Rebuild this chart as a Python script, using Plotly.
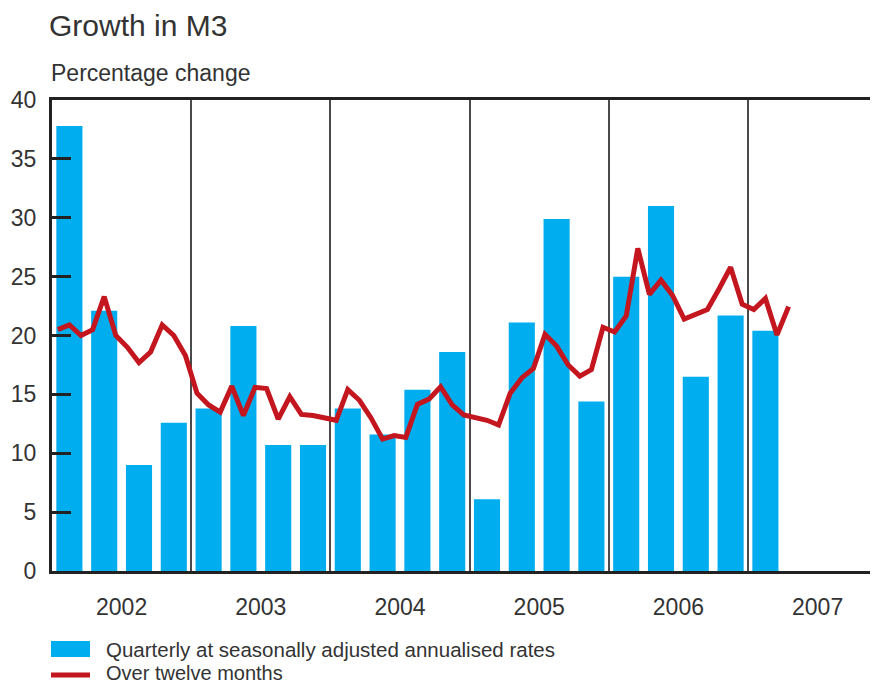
'''
Growth in M3: quarterly annualised bars and twelve-month line
'''
import numpy as np
import plotly.graph_objects as go

years = ['2002', '2003', '2004', '2005', '2006', '2007']

# quarterly at seasonally adjusted annualised rates, Q1 2002 - Q1 2007
quarterly = [37.8, 22.1, 9.0, 12.6,
             13.8, 20.8, 10.7, 10.7,
             13.8, 11.6, 15.4, 18.6,
             6.1, 21.1, 29.9, 14.4,
             25.0, 31.0, 16.5, 21.7,
             20.4]

# over twelve months, Jan 2002 - Apr 2007
monthly = [20.5, 20.9, 20.0, 20.5, 23.3, 20.0, 19.0, 17.7, 18.6, 20.9, 20.0, 18.3,
           15.1, 14.1, 13.5, 15.7, 13.2, 15.6, 15.5, 12.9, 14.8, 13.3, 13.2, 13.05,
           12.8, 15.4, 14.5, 13.0, 11.2, 11.5, 11.35, 14.15, 14.6, 15.65, 14.1, 13.25,
           13.05, 12.8, 12.4, 15.1, 16.4, 17.2, 20.1, 19.1, 17.5, 16.55, 17.1, 20.7,
           20.3, 21.65, 27.4, 23.5, 24.7, 23.4, 21.4, 21.8, 22.2, 23.95, 25.8, 22.65,
           22.2, 23.15, 20.05, 22.45]

BLUE = '#00adef'
RED = '#c3161f'
INK = '#333333'
FONT = 'Liberation Sans'

# the page puts the figure 8 px in from the top-left corner
OFF = 8
W, H = 878 - OFF, 683 - OFF
LEFT, TOP, BOTTOM = 52 - OFF, 100 - OFF, 571 - OFF


def px_x(px):
    return (px - OFF - LEFT) / (W - LEFT)


def px_y(py):
    return (BOTTOM - (py - OFF)) / (BOTTOM - TOP)


x_quarter = np.arange(len(quarterly)) * 3 + 1.5
x_month = np.arange(len(monthly)) + 0.5
year_mid = [12 * i + 6 for i in range(len(years))]

fig = go.Figure()
fig.add_trace(go.Bar(x=x_quarter, y=quarterly, width=2.25,
                     marker=dict(color=BLUE, line=dict(width=0)),
                     name='Quarterly at seasonally adjusted annualised rates'))
fig.add_trace(go.Scatter(x=x_month, y=monthly, mode='lines',
                         line=dict(color=RED, width=5),
                         name='Over twelve months'))

fig.update_layout(
    width=W, height=H,
    margin=dict(l=LEFT, r=0, t=TOP, b=H - BOTTOM, autoexpand=False),
    paper_bgcolor='white', plot_bgcolor='white',
    showlegend=False,
    font=dict(family=FONT, color=INK, size=23),
    title=dict(text='Growth in M3', x=(49 - OFF) / W, xanchor='left',
               y=1 - (25 - OFF) / H, yanchor='middle',
               font=dict(size=30, color=INK)),
)

fig.update_xaxes(range=[0, (W - LEFT) / 11.6], showline=True, mirror=True,
                 linecolor='#222222', linewidth=3, automargin=False,
                 tickmode='array', tickvals=year_mid, ticktext=years,
                 ticks='', showgrid=False, zeroline=False,
                 ticklabelstandoff=13,
                 minor=dict(tick0=0, dtick=12, showgrid=True,
                            gridcolor='#4a4a4a', gridwidth=1.5))
fig.update_yaxes(range=[0, 40], dtick=5, showline=True, mirror=False,
                 linecolor='#222222', linewidth=3, automargin=False,
                 ticks='inside', ticklen=19, tickwidth=2.5, tickcolor='#222222',
                 showgrid=False, zeroline=False, ticklabelstandoff=8)

fig.add_annotation(text='Percentage change', xref='paper', yref='paper',
                   x=px_x(49), y=px_y(73), xanchor='left', yanchor='middle',
                   showarrow=False, font=dict(size=23, color=INK))

# legend drawn by hand for the wide swatches
fig.add_shape(type='rect', xref='paper', yref='paper',
              x0=px_x(51), x1=px_x(90), y0=px_y(641), y1=px_y(657),
              fillcolor=BLUE, line=dict(width=0))
fig.add_shape(type='line', xref='paper', yref='paper',
              x0=px_x(51), x1=px_x(90), y0=px_y(675), y1=px_y(675),
              line=dict(color=RED, width=5))
fig.add_annotation(text='Quarterly at seasonally adjusted annualised rates',
                   xref='paper', yref='paper', x=px_x(104), y=px_y(649),
                   xanchor='left', yanchor='middle', showarrow=False,
                   font=dict(size=20.5, color=INK))
fig.add_annotation(text='Over twelve months',
                   xref='paper', yref='paper', x=px_x(104), y=px_y(673),
                   xanchor='left', yanchor='middle', showarrow=False,
                   font=dict(size=20, color=INK))

fig.write_html('out.html')
